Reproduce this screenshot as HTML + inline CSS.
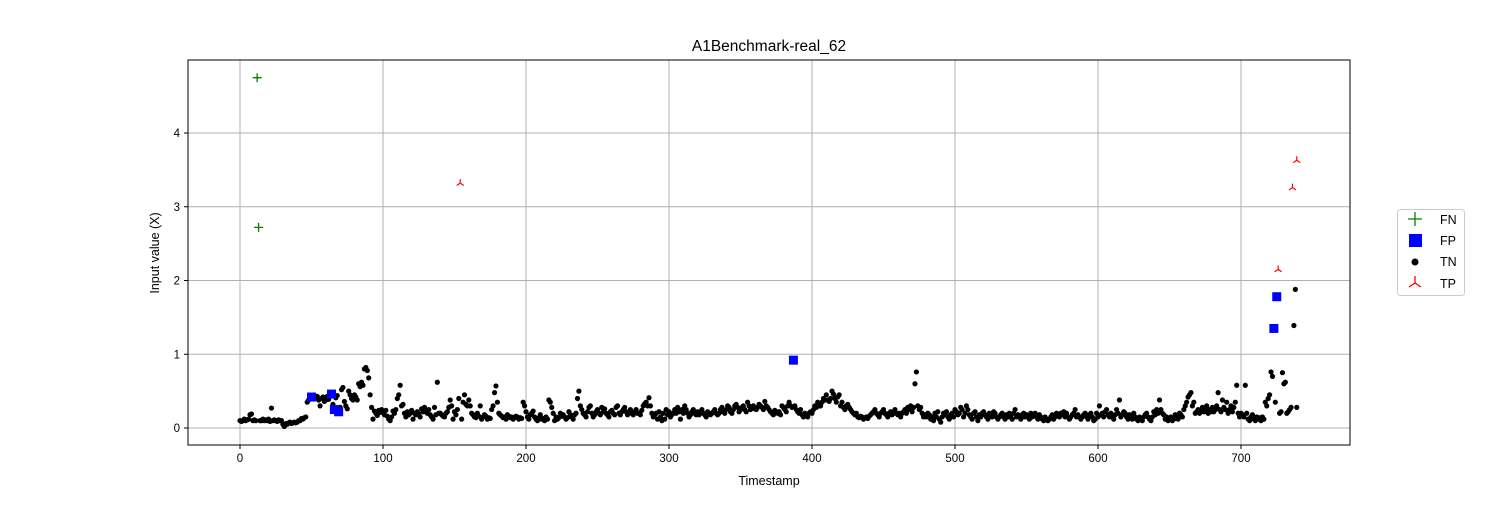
<!DOCTYPE html>
<html><head><meta charset="utf-8"><style>
body{margin:0;background:#fff;font-family:"Liberation Sans",sans-serif}
svg text{font-family:"Liberation Sans",sans-serif;fill:#000}
</style></head><body>
<svg id="c" width="1500" height="500" xmlns="http://www.w3.org/2000/svg">
<text x="769" y="51" font-size="15.5" text-anchor="middle">A1Benchmark-real_62</text>
<g id="grid"></g><g id="marks"></g><g id="axes"></g>
<text x="769" y="485" font-size="12.5" text-anchor="middle">Timestamp</text>
<text transform="translate(159,253) rotate(-90)" font-size="12.5" text-anchor="middle">Input value (X)</text>
<g>
<rect x="1397.5" y="209.5" width="67" height="86" rx="3" fill="#fff" stroke="#ccc"/>
<g><path d="M1408 219h14M1415 212v14" stroke="green" stroke-width="1.3"/><text x="1440" y="224" font-size="12.5">FN</text></g>
<g><rect x="1409" y="234" width="13" height="13" fill="blue"/><text x="1440" y="245" font-size="12.5">FP</text></g>
<g><circle cx="1415" cy="262" r="3.5" fill="#000"/><text x="1440" y="266" font-size="12.5">TN</text></g>
<g><path d="M1415 283v-7M1415 283l-6 4M1415 283l6 4" stroke="red" stroke-width="1.3" fill="none"/><text x="1440" y="288" font-size="12.5">TP</text></g>
</g>
</svg>
<script>
const xTicks=[0,100,200,300,400,500,600,700];
const yTicks=[0,1,2,3,4];
const fnX=[12,13];const fnY=[4.75,2.72];
const tpX=[154,726,736,739];const tpY=[3.32,2.15,3.26,3.63];
const fpX=[50,64,66,69,387,723,725];const fpY=[0.42,0.46,0.25,0.22,0.92,1.35,1.78];
const tnY=[
.1,.09,.1,.12,.1,.11,.12,.18,.19,.1,
.11,.1,null,null,.1,.1,.12,.1,.11,.1,
.12,.09,.27,.1,.11,.1,.09,.11,.1,.1,
.05,.02,.06,.05,.07,.08,.06,.07,.08,.07,
.08,.1,.1,.13,.12,.14,.15,.35,.38,.4,
null,.42,.44,.41,.43,.38,.3,.4,.42,.36,
.38,.43,.39,.44,null,.32,null,.41,.44,null,
.28,.52,.55,.36,.3,.26,.5,.45,.4,.38,
.45,.42,.38,.6,.56,.62,.58,.8,.82,.78,
.68,.45,.28,.12,.23,.2,.17,.24,.21,.25,
.22,.18,.24,.16,.12,.1,.15,.23,.2,.25,
.4,.45,.58,.3,.32,.2,.15,.22,.18,.2,
.24,.12,.2,.18,.22,.19,.15,.26,.22,.28,
.22,.2,.25,.18,.15,.12,.28,.18,.62,.2,
.2,.18,.16,.15,.2,.22,.28,.38,.3,.12,
.22,.18,.25,.4,null,.12,.35,.45,.32,.3,
.38,.3,.2,.18,.15,.14,.2,.16,.3,.12,
.15,.18,.16,.12,.14,.13,.25,.3,.48,.57,
.35,.2,.18,.16,.14,.15,.12,.18,.16,.14,
.15,.12,.14,.16,.15,.12,.14,.13,.35,.3,
.22,.15,.12,.18,.2,.23,.15,.12,.1,.14,
.18,.12,.13,.1,.15,.12,.38,.35,.28,.2,
.1,.15,.12,.14,.2,.16,.18,.15,.12,.14,
.22,.18,.15,.12,.18,.2,.4,.5,.3,.25,
.2,.18,.15,.22,.28,.3,.2,.15,.18,.22,
.25,.2,.18,.28,.22,.26,.2,.18,.15,.22,
.24,.2,.18,.28,.3,.2,.18,.22,.25,.28,
.22,.18,.2,.25,.2,.18,.22,.25,.2,.2,
.18,.24,.3,.33,.35,.3,.41,.3,.2,.15,
.18,.2,.12,.22,.15,.1,.2,.12,.25,.18,
.22,.15,.18,.2,.25,.2,.28,.22,.12,.25,
.2,.3,.25,.2,.15,.18,.22,.25,.2,.18,
.22,.18,.2,.25,.2,.18,.15,.22,.2,.18,
.2,.22,.25,.2,.18,.2,.25,.28,.22,.2,
.25,.3,.28,.22,.2,.25,.3,.32,.28,.22,
.25,.28,.3,.25,.22,.35,.3,.25,.28,.3,
.26,.25,.28,.32,.3,.28,.25,.36,.3,.28,
.25,.22,.2,.18,.24,.22,.2,.22,.18,.3,
.28,.25,.22,.3,.35,.3,.28,null,.3,.25,
.22,.2,.25,.18,.15,.2,.18,.15,.2,.22,
.2,.25,.3,.28,.35,.3,.3,.35,.4,.38,
.45,.38,.36,.4,.5,.46,.4,.35,.42,.45,
.3,.35,.28,.25,.3,.32,.28,.25,.22,.2,
.18,.2,.15,.14,.16,.15,.12,.14,.15,.13,
.16,.18,.2,.22,.25,.2,.18,.15,.2,.22,
.25,.2,.18,.15,.2,.22,.18,.2,.25,.2,
.18,.2,.15,.2,.22,.25,.2,.28,.25,.3,
.22,.28,.6,.76,.3,.25,.28,.2,.15,.18,
.15,.2,.18,.12,.15,.1,.2,.15,.22,.12,
.08,.15,.2,.18,.22,.15,.12,.18,.2,.15,
.25,.22,.18,.2,.28,.25,.15,.2,.3,.25,
.18,.15,.12,.2,.22,.15,.1,.18,.15,.2,
.22,.18,.15,.12,.2,.18,.15,.22,.2,.15,
.12,.15,.18,.2,.15,.12,.18,.15,.2,.15,
.12,.2,.25,.15,.18,.15,.12,.18,.2,.15,
.18,.15,.12,.2,.15,.18,.2,.15,.12,.18,
.15,.12,.1,.15,.12,.1,.12,.15,.18,.12,
.15,.2,.18,.15,.2,.18,.22,.15,.2,.15,
.12,.15,.18,.2,.25,.15,.18,.15,.12,.15,
.18,.2,.15,.12,.18,.2,.15,.1,.12,.2,
.15,.3,.18,.2,.15,.22,.25,.18,.15,.2,
.15,.12,.18,.25,.2,.38,.15,.18,.22,.2,
.15,.12,.18,.15,.12,.2,.15,.12,.1,.15,
.12,.1,.15,.18,.2,.15,.12,.1,.15,.22,
.18,.25,.2,.38,.25,.2,.18,.12,.15,.1,
.12,.15,.1,.12,.18,.15,.12,.2,.18,.15,
.25,.3,.35,.42,.45,.48,.3,.35,.2,.22,
.25,.2,.22,.28,.22,.25,.3,.2,.25,.22,
.28,.22,.25,.3,.48,.25,.22,.38,.28,.25,
.35,.2,.25,.3,.22,.28,.35,.58,.2,.15,
.2,.18,.15,.58,.2,.12,.1,.15,.18,.12,
.1,.15,.12,.14,.1,.15,.12,.35,.3,.4,
.45,.76,.7,null,.35,null,null,.2,.22,.75,
.6,.62,.2,.22,.25,.28,null,1.39,1.88,.28];
const L=188,R=1350,T=60,B=445;
const X=v=>240+v*(1001/700);
const Y=v=>428-v*(295/4);
const NS='http://www.w3.org/2000/svg';
function mk(tag,attrs,parent){const e=document.createElementNS(NS,tag);for(const k in attrs)e.setAttribute(k,attrs[k]);parent.appendChild(e);return e;}
const grid=document.getElementById('grid'),marks=document.getElementById('marks'),axes=document.getElementById('axes');
xTicks.forEach(t=>{const x=X(t);
 const g=mk('line',{x1:x,x2:x,y1:T,y2:B,stroke:'#b0b0b0','stroke-width':1},grid);
 
 
 mk('line',{x1:x,x2:x,y1:B,y2:B+4,stroke:'#000'},axes);
 const tx=mk('text',{x:x,y:B+17,'font-size':11.5,'text-anchor':'middle'},axes);tx.textContent=t;
 
 
});
yTicks.forEach(t=>{const y=Y(t);
 const g=mk('line',{x1:L,x2:R,y1:y,y2:y,stroke:'#b0b0b0','stroke-width':1},grid);
 
 
 mk('line',{x1:L-4,x2:L,y1:y,y2:y,stroke:'#000'},axes);
 const tx=mk('text',{x:L-8,y:y+4,'font-size':11.5,'text-anchor':'end'},axes);tx.textContent=t;
 
 
});
const fr=mk('rect',{x:L,y:T,width:R-L,height:B-T,fill:'none',stroke:'#000','stroke-width':1},axes);


tnY.forEach((v,i)=>{if(v===null)return;
 const c=mk('circle',{cx:X(i),cy:Y(v),r:2.6,fill:'#000'},marks);
 
 
});
fpX.forEach((x,i)=>{
 const r=mk('rect',{x:X(x)-4.5,y:Y(fpY[i])-4.5,width:9,height:9,fill:'blue'},marks);
 
 
});
fnX.forEach((x,i)=>{const cx=X(x),cy=Y(fnY[i]);
 const p=mk('path',{d:`M${cx-4.5} ${cy}h9M${cx} ${cy-4.5}v9`,stroke:'green','stroke-width':1.3},marks);
 
 
});
tpX.forEach((x,i)=>{const cx=X(x),cy=Y(tpY[i]);
 const p=mk('path',{d:`M${cx} ${cy}v-4M${cx} ${cy}l-3.5 2.3M${cx} ${cy}l3.5 2.3`,stroke:'red','stroke-width':1.2,fill:'none'},marks);
 
 
});
</script>
</body></html>
